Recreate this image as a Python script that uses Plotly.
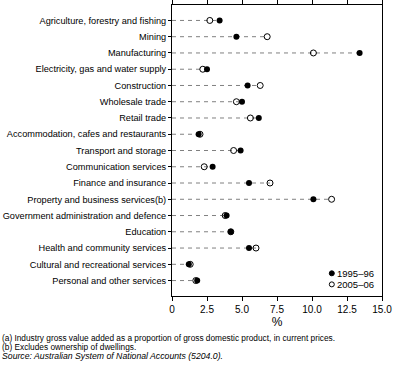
import plotly.graph_objects as go

industries = [
    "Agriculture, forestry and fishing", "Mining", "Manufacturing",
    "Electricity, gas and water supply", "Construction", "Wholesale trade",
    "Retail trade", "Accommodation, cafes and restaurants", "Transport and storage",
    "Communication services", "Finance and insurance", "Property and business services(b)",
    "Government administration and defence", "Education", "Health and community services",
    "Cultural and recreational services", "Personal and other services",
]
v1995 = [3.4, 4.6, 13.4, 2.5, 5.4, 5.0, 6.2, 1.9, 4.9, 2.9, 5.5, 10.1, 3.9, 4.2, 5.5, 1.2, 1.8]
v2005 = [2.7, 6.8, 10.1, 2.2, 6.3, 4.6, 5.6, 2.0, 4.4, 2.3, 7.0, 11.4, 3.8, 4.2, 6.0, 1.3, 1.7]
series_names = ["1995\u201396", "2005\u201306"]
xticks = [0, 2.5, 5.0, 7.5, 10.0, 12.5, 15.0]
xticklabels = ["0", "2.5", "5.0", "7.5", "10.0", "12.5", "15.0"]

FONT = "Liberation Sans, Arial, sans-serif"

lx, ly = [], []
for name, a, b in zip(industries, v1995, v2005):
    lx += [0, max(a, b), None]
    ly += [name, name, None]

fig = go.Figure()
fig.add_trace(go.Scatter(x=lx, y=ly, mode="lines", showlegend=False, hoverinfo="skip",
                         line=dict(color="#808080", width=1, dash="4px,4px")))
fig.add_trace(go.Scatter(x=v1995, y=industries, mode="markers", name=series_names[0],
                         showlegend=False,
                         marker=dict(symbol="circle", size=6, color="black")))
fig.add_trace(go.Scatter(x=v2005, y=industries, mode="markers", name=series_names[1],
                         showlegend=False,
                         marker=dict(symbol="circle-open", size=6, color="black",
                                     line=dict(width=1, color="black"))))

fig.update_layout(
    width=397, height=378, margin=dict(l=172, r=15, t=5, b=82, autoexpand=False),
    paper_bgcolor="white", plot_bgcolor="white",
    font=dict(family=FONT, size=10, color="black"),
    showlegend=False,
)
fig.update_xaxes(range=[0, 15], tickvals=xticks, ticktext=xticklabels, automargin=False,
                 showgrid=False, zeroline=False, showline=True, linecolor="black",
                 linewidth=1, mirror="ticks", ticks="outside", ticklen=4,
                 tickcolor="black", title=dict(text="%", standoff=3),
                 tickfont=dict(size=10))
fig.update_yaxes(categoryorder="array", categoryarray=industries[::-1], automargin=False,
                 range=[-0.95, 16.95],
                 showgrid=False, zeroline=False, showline=True, linecolor="black",
                 linewidth=1, mirror=True, ticks="outside", ticklen=3,
                 tickcolor="black", tickfont=dict(size=9.2))

# legend (manual, compact like the reference)
for i, (nm, sym) in enumerate(zip(series_names, ["filled", "open"])):
    yc = 0.078 - i * 0.038
    fig.add_shape(type="circle", xref="paper", yref="paper", xsizemode="pixel", ysizemode="pixel",
                  xanchor=0.761, yanchor=yc, x0=-2.5, x1=2.5, y0=-2.5, y1=2.5,
                  fillcolor="black" if sym == "filled" else "white",
                  line=dict(color="black", width=1))
    fig.add_annotation(xref="paper", yref="paper", x=0.775, y=yc, xanchor="left", yanchor="middle",
                       text=nm, showarrow=False, font=dict(size=9.5))

fig.add_annotation(xref="paper", yref="paper", x=-172/210, y=-0.143, xanchor="left", yanchor="middle",
                   text="(a) Industry gross value added as a proportion of gross domestic product, in current prices.",
                   showarrow=False, align="left", font=dict(size=8.3))
fig.add_annotation(xref="paper", yref="paper", x=-172/210, y=-0.175, xanchor="left", yanchor="middle",
                   text="(b) Excludes ownership of dwellings.",
                   showarrow=False, align="left", font=dict(size=8.3))
fig.add_annotation(xref="paper", yref="paper", x=-172/210, y=-0.207, xanchor="left", yanchor="middle",
                   text="<i>Source: Australian System of National Accounts (5204.0).</i>",
                   showarrow=False, align="left", font=dict(size=8.7))

fig.write_html("out.html", config={"displayModeBar": False},
               post_script="document.body.style.margin='0';document.body.style.overflow='hidden';")
